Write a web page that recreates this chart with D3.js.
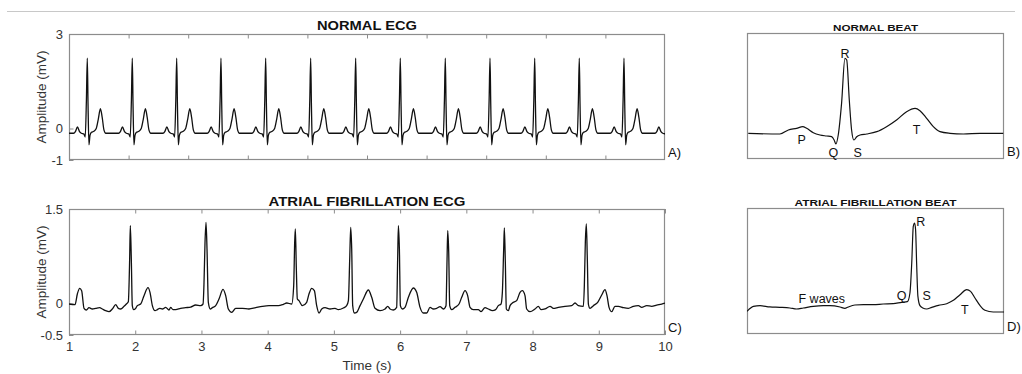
<!DOCTYPE html>
<html><head><meta charset="utf-8">
<script src="https://cdn.jsdelivr.net/npm/d3@7/dist/d3.min.js"></script>
<style>
html,body{margin:0;padding:0;background:#fff;}
svg{display:block;font-family:"Liberation Sans",Arial,Helvetica,sans-serif;}
</style></head>
<body><svg id="c" width="1022" height="374"></svg>
<script>
// ---------------- DATA ----------------
// Panel A: normal ECG — R-peak times (s, panel time base 0..10) and one beat template
const normalRTimes = [0.307, 1.062, 1.807, 2.550, 3.300, 4.055, 4.810, 5.559, 6.314, 7.064, 7.814, 8.562, 9.312, 10.062];
const beatOffsets = [-0.375, -0.23, -0.2, -0.165, -0.13, -0.1, -0.06, -0.035, -0.015, 0, 0.013, 0.028, 0.045, 0.07, 0.11, 0.15, 0.185, 0.22, 0.25, 0.28, 0.31, 0.375];
const beatValues  = [-0.15, -0.15, -0.1, 0.05, -0.1, -0.15, -0.17, -0.27, 0.9, 2.23, 0.7, -0.52, -0.22, -0.12, -0.09, 0.0, 0.3, 0.63, 0.35, -0.05, -0.15, -0.15];
const normalYTicks = [-1, 0, 3];
const normalXTicks = [1, 2, 3, 4, 5, 6, 7, 8, 9];

// Panel C: atrial fibrillation ECG (time s, amplitude mV)
const afTime = [1.000,1.091,1.126,1.161,1.191,1.227,1.262,1.302,1.352,1.403,1.463,1.503,1.554,1.604,1.654,1.705,1.745,1.780,1.831,1.866,1.896,1.916,1.926,1.941,1.956,1.977,2.007,2.032,2.082,2.133,2.193,2.223,2.259,2.299,2.334,2.369,2.410,2.460,2.510,2.535,2.571,2.611,2.686,2.762,2.837,2.913,2.988,3.024,3.039,3.054,3.069,3.084,3.104,3.134,3.165,3.215,3.265,3.326,3.366,3.406,3.457,3.517,3.618,3.718,3.819,3.919,4.020,
 4.036,4.161,4.237,4.287,4.363,4.393,4.408,4.418,4.433,4.448,4.473,4.524,4.589,4.624,4.665,4.705,4.740,4.776,4.816,4.866,4.942,5.017,5.067,5.143,5.193,5.219,5.239,5.254,5.269,5.284,5.309,5.344,5.395,5.445,5.521,5.571,5.621,5.697,5.772,5.813,5.848,5.898,5.948,5.963,5.974,5.989,6.004,6.034,6.074,6.125,6.200,6.250,6.301,6.351,6.401,6.452,6.502,6.552,6.603,6.653,6.693,6.709,6.719,6.734,6.749,6.779,6.829,6.890,6.930,6.980,
 7.020,7.056,7.106,7.181,7.222,7.282,7.332,7.393,7.443,7.483,7.524,7.544,7.564,7.574,7.589,7.604,7.634,7.660,7.695,7.760,7.811,7.846,7.886,7.911,7.962,8.037,8.087,8.128,8.188,8.264,8.314,8.390,8.490,8.591,8.641,8.692,8.767,8.782,8.797,8.812,8.827,8.843,8.868,8.918,8.984,9.044,9.094,9.124,9.155,9.195,9.245,9.296,9.371,9.447,9.522,9.598,9.648,9.724,9.799,9.874,9.950,10.000];
const afValue = [-0.008,-0.019,0.151,0.241,0.204,-0.077,-0.103,-0.066,-0.087,-0.077,-0.066,-0.087,-0.114,-0.130,-0.087,-0.019,-0.077,-0.087,-0.045,-0.008,0.029,0.706,1.235,0.706,-0.034,-0.098,-0.077,-0.034,-0.008,0.124,0.251,0.177,-0.034,-0.114,-0.098,-0.077,-0.087,-0.061,-0.103,-0.061,-0.098,-0.098,-0.077,-0.066,-0.056,-0.024,-0.034,-0.008,0.336,0.971,1.288,0.865,0.019,-0.087,-0.066,-0.034,0.071,0.225,0.124,-0.087,-0.140,-0.077,-0.077,-0.087,-0.066,-0.045,-0.034,
 -0.034,-0.034,-0.013,0.008,-0.008,0.283,0.971,1.183,0.548,0.071,0.045,-0.034,0.019,0.151,0.241,0.204,-0.034,-0.151,-0.087,-0.066,-0.087,-0.077,-0.098,-0.071,-0.034,0.045,0.706,1.209,0.865,-0.034,-0.151,-0.140,-0.034,0.071,0.214,0.098,-0.077,-0.114,-0.087,-0.045,-0.087,-0.103,-0.061,0.706,1.235,0.865,-0.034,-0.087,-0.061,0.098,0.246,0.177,-0.061,-0.151,-0.151,-0.061,-0.087,-0.077,-0.050,-0.087,-0.034,0.706,1.156,0.812,-0.034,-0.098,-0.061,-0.008,0.098,0.204,
 0.124,-0.061,-0.098,-0.098,-0.130,-0.066,-0.087,-0.114,-0.098,-0.034,-0.008,0.177,0.865,1.200,0.653,-0.087,-0.114,-0.034,0.008,0.045,0.177,0.204,0.124,-0.087,-0.130,-0.087,-0.045,-0.098,-0.087,-0.045,-0.077,-0.061,-0.045,-0.034,0.008,-0.034,-0.045,0.283,0.971,1.262,0.706,-0.008,-0.077,-0.034,0.019,0.135,0.220,0.124,-0.061,-0.130,-0.045,-0.045,-0.066,-0.077,-0.045,-0.034,-0.061,-0.034,-0.045,-0.024,-0.008,0.008];
const afYTicks = [-0.5, 0, 1.5];
const afXTicks = [1, 2, 3, 4, 5, 6, 7, 8, 9, 10];

// Panel B: single normal beat (normalised time 0..1, amplitude)
const nbTime  = [0.005,0.128,0.161,0.193,0.217,0.232,0.258,0.284,0.310,0.329,0.339,0.346,0.355,0.368,0.381,0.388,0.398,0.407,0.416,0.427,0.440,0.466,0.505,0.543,0.582,0.621,0.654,0.673,0.699,0.725,0.751,0.790,0.842,0.907,0.997];
const nbValue = [0.013,-0.006,0.106,0.152,0.198,0.152,0.031,-0.033,-0.061,-0.080,-0.172,-0.283,-0.033,0.846,2.096,2.050,0.939,0.106,-0.172,-0.080,-0.033,-0.006,0.059,0.198,0.383,0.615,0.707,0.643,0.430,0.198,0.059,0.013,-0.006,0.013,0.013];
const nbLabels = ["P","Q","R","S","T"];
const nbLabelT = [0.213,0.336,0.381,0.431,0.660];
const nbLabelV = [-0.172,-0.525,2.236,-0.525,0.106];

// Panel D: single atrial fibrillation beat
const abTime  = [0.000,0.025,0.051,0.089,0.128,0.167,0.193,0.219,0.258,0.297,0.323,0.362,0.381,0.394,0.420,0.453,0.492,0.530,0.569,0.602,0.624,0.634,0.641,0.647,0.652,0.656,0.660,0.665,0.673,0.684,0.699,0.719,0.745,0.777,0.803,0.829,0.855,0.870,0.887,0.907,0.926,0.958,1.000];
const abValue = [-0.140,-0.061,-0.050,-0.071,-0.077,-0.087,-0.103,-0.087,-0.061,-0.050,-0.050,-0.071,-0.093,-0.071,-0.040,-0.034,-0.034,-0.024,-0.019,0.003,0.013,0.151,0.627,1.209,1.262,1.156,0.627,0.098,-0.050,-0.087,-0.103,-0.077,-0.045,-0.019,0.034,0.124,0.204,0.177,0.071,-0.050,-0.124,-0.151,-0.151];
const abLabels = ["F waves","Q","R","S","T"];
const abLabelT = [0.291,0.602,0.676,0.699,0.848];
const abLabelV = [0.056,0.108,1.287,0.108,-0.114];

// ---------------- DRAW ----------------
const svg = d3.select("#c");
const axisCol = "#8c8c8c", textCol = "#333", traceCol = "#111";

svg.append("line").attr("x1",7).attr("x2",1015).attr("y1",11.5).attr("y2",11.5)
  .attr("stroke","#c8c8c8").attr("stroke-width",1);

function panel(id, xs, ys, opts){
  const g = svg.append("g");
  const [x0,x1] = xs.range(), [y0,y1] = ys.range(); // y0 bottom, y1 top
  g.append("clipPath").attr("id",id).append("rect")
    .attr("x",x0).attr("y",y1).attr("width",x1-x0).attr("height",y0-y1);
  if (opts.xTicks){
    const tl = 4.5;
    g.append("g").attr("transform",`translate(0,${y0})`)
      .call(d3.axisBottom(xs).tickValues(opts.xTicks).tickSize(-tl).tickPadding(7)
        .tickFormat(opts.xLabels ? d3.format("d") : ""))
      .call(a=>{a.select(".domain").remove();
        a.selectAll("line").attr("stroke",axisCol);
        a.selectAll("text").attr("fill",textCol).style("font-size","13px").style("font-family","Liberation Sans, Arial, sans-serif");});
    g.append("g").attr("transform",`translate(0,${y1})`)
      .call(d3.axisTop(xs).tickValues(opts.xTicks).tickSize(-tl).tickFormat(""))
      .call(a=>{a.select(".domain").remove(); a.selectAll("line").attr("stroke",axisCol);});
  }
  if (opts.yTicks){
    g.append("g").attr("transform",`translate(${x0},0)`)
      .call(d3.axisLeft(ys).tickValues(opts.yTicks).tickSize(-4.5).tickPadding(6).tickFormat(d=>String(d)))
      .call(a=>{a.select(".domain").remove();
        a.selectAll("line").attr("stroke",axisCol);
        a.selectAll("text").attr("fill",textCol).style("font-size","13px").style("font-family","Liberation Sans, Arial, sans-serif");});
  }
  g.append("rect").attr("x",x0+0.5).attr("y",y1+0.5).attr("width",x1-x0-1).attr("height",y0-y1-1)
    .attr("fill","none").attr("stroke",axisCol).attr("stroke-width",1.2);
  const line = d3.line().x(d=>xs(d[0])).y(d=>ys(d[1])).curve(d3.curveMonotoneX);
  g.append("path").datum(opts.data).attr("clip-path",`url(#${id})`)
    .attr("d",line).attr("fill","none").attr("stroke",traceCol).attr("stroke-width",opts.sw||1.2)
    .attr("stroke-linejoin","round");
  g.append("text").attr("x",(x0+x1)/2).attr("y",opts.titleY).attr("text-anchor","middle")
    .attr("font-weight","bold").attr("font-size",opts.titleSize).attr("fill","#111")
    .attr("textLength",opts.titleLen).attr("lengthAdjust","spacingAndGlyphs").text(opts.title);
  g.append("text").attr("x",x1+3).attr("y",y0-3).attr("font-size",13).attr("fill","#111").text(opts.letter);
  if (opts.labels){
    opts.labels.forEach((l,i)=>{
      g.append("text").attr("x",xs(opts.labelT[i])).attr("y",ys(opts.labelV[i])).attr("dy","0.36em")
        .attr("text-anchor","middle").attr("font-size",12.5).attr("fill","#111").text(l);
    });
  }
  return g;
}

// Panel A
const xA = d3.scaleLinear().domain([0,10]).range([69,665]);
const yA = d3.scaleLinear().domain([-1,3]).range([160,34]);
const normalData = [];
normalRTimes.forEach(r=>beatOffsets.forEach((o,i)=>normalData.push([r+o, beatValues[i]])));
normalData.sort((a,b)=>a[0]-b[0]);
panel("clipA", xA, yA, {data:normalData, xTicks:normalXTicks, xLabels:false, yTicks:normalYTicks,
  title:"NORMAL ECG", titleY:30, titleSize:13, titleLen:100, letter:"A)", sw:1.3});

// Panel C
const xC = d3.scaleLinear().domain([1,10]).range([69,665]);
const yC = d3.scaleLinear().domain([-0.5,1.5]).range([335,209]);
const afData = afTime.map((t,i)=>[t, afValue[i]]);
panel("clipC", xC, yC, {data:afData, xTicks:afXTicks, xLabels:true, yTicks:afYTicks,
  title:"ATRIAL FIBRILLATION ECG", titleY:206, titleSize:13, titleLen:197, letter:"C)", sw:1.3});

// Panel B
const xB = d3.scaleLinear().domain([0,1]).range([747,1004]);
const yB = d3.scaleLinear().domain([-0.7,2.8]).range([159,33]);
panel("clipB", xB, yB, {data:nbTime.map((t,i)=>[t,nbValue[i]]), title:"NORMAL BEAT", titleY:30.5, titleSize:9.5, titleLen:85,
  letter:"B)", labels:nbLabels, labelT:nbLabelT, labelV:nbLabelV, sw:1.2});

// Panel D
const xD = d3.scaleLinear().domain([0,1]).range([747,1004]);
const yD = d3.scaleLinear().domain([-0.5,1.5]).range([334,208]);
panel("clipD", xD, yD, {data:abTime.map((t,i)=>[t,abValue[i]]), title:"ATRIAL FIBRILLATION BEAT", titleY:205.5, titleSize:9.5, titleLen:162,
  letter:"D)", labels:abLabels, labelT:abLabelT, labelV:abLabelV, sw:1.2});

// axis labels
[[97,"Amplitude (mV)"],[272,"Amplitude (mV)"]].forEach(([cy,t])=>{
  svg.append("text").attr("transform",`translate(46,${cy}) rotate(-90)`).attr("text-anchor","middle")
    .attr("font-size",13.5).attr("fill",textCol).text(t);
});
svg.append("text").attr("x",367).attr("y",369.5).attr("text-anchor","middle")
  .attr("font-size",13.5).attr("fill",textCol).text("Time (s)");
</script></body></html>
